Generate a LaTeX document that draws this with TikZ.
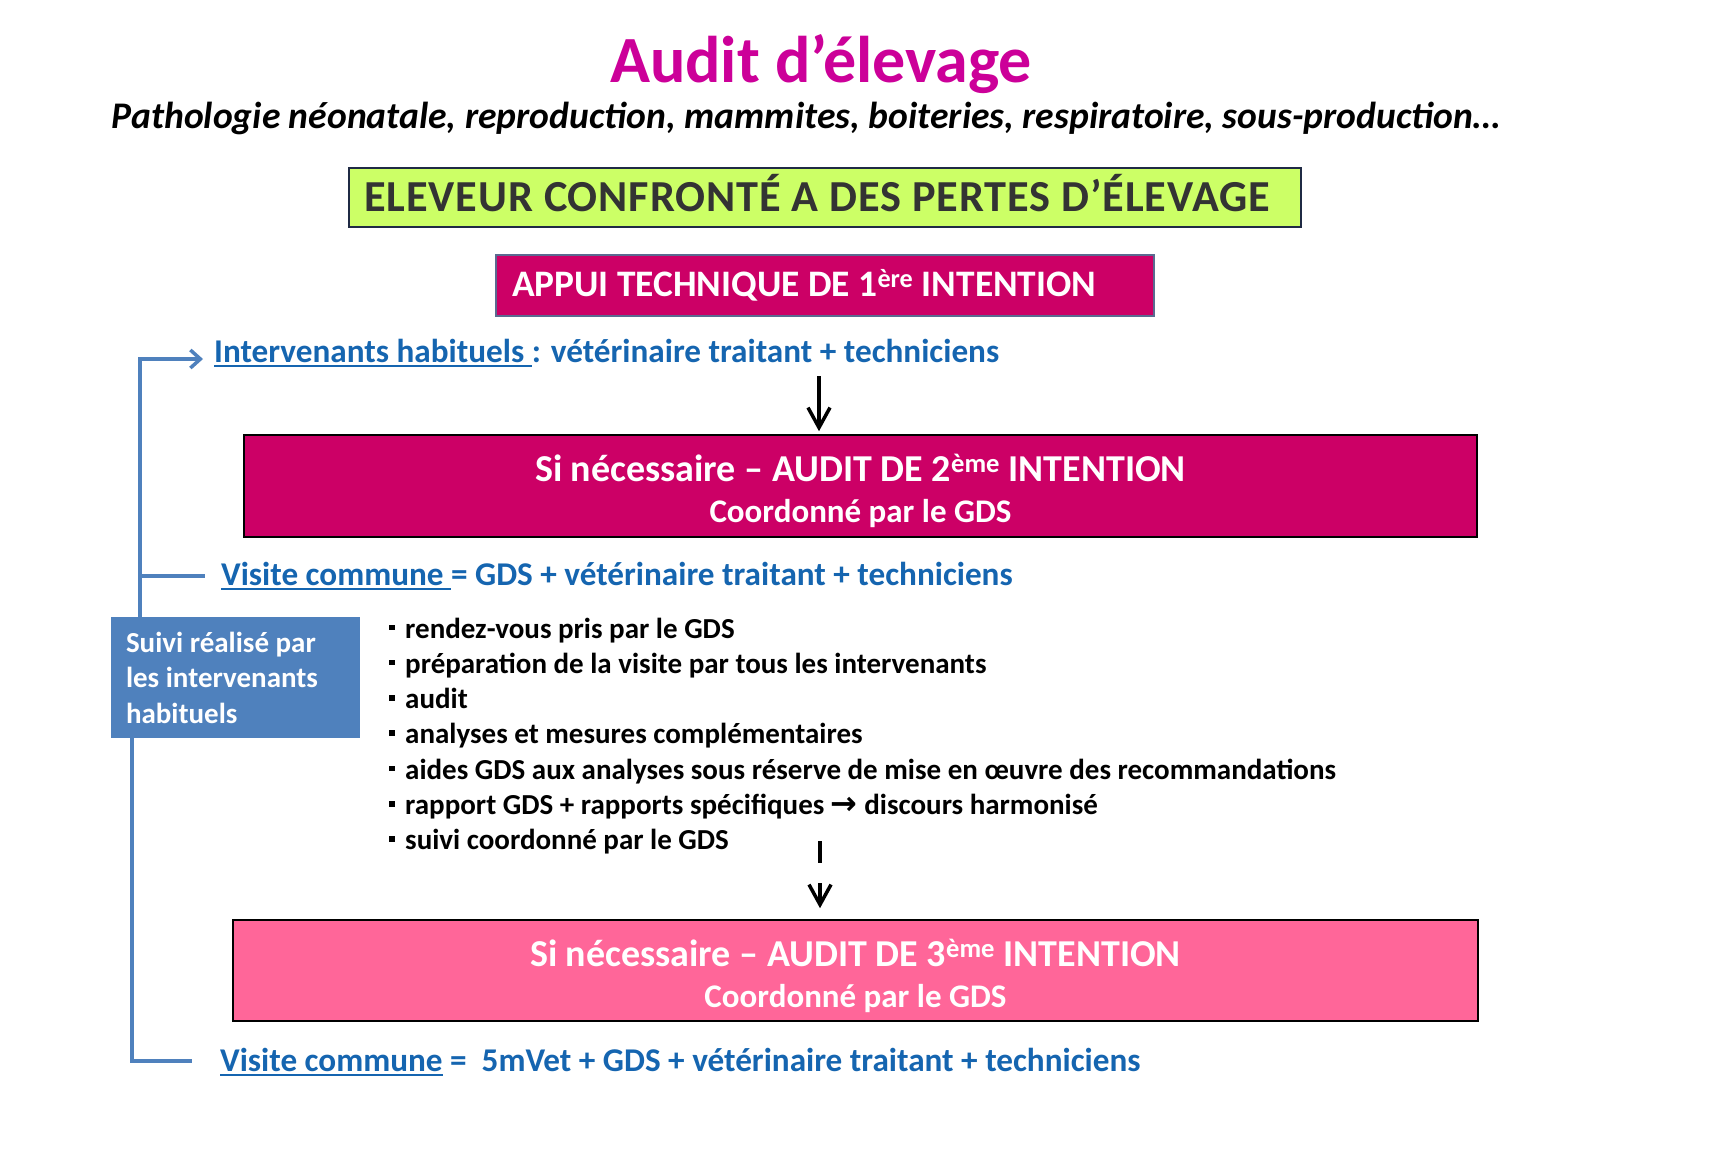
\documentclass[tikz,border=0pt]{standalone}
\usepackage{fontspec}
\setmainfont{Carlito}
\newfontfamily\arrowfont{DejaVu Sans}
\usetikzlibrary{arrows.meta}

\definecolor{titlemag}{HTML}{CC0099}
\definecolor{lime}{HTML}{CCFF66}
\definecolor{limeedge}{HTML}{1F2A44}
\definecolor{darktxt}{HTML}{333333}
\definecolor{auditmag}{HTML}{CC0066}
\definecolor{appuiedge}{HTML}{5A6A90}
\definecolor{auditpink}{HTML}{FF6699}
\definecolor{linkblue}{HTML}{1565B0}
\definecolor{barblue}{HTML}{4F81BD}

\newcommand{\fsz}[2]{\fontsize{#1}{#2}\selectfont}
\newcommand{\sq}{\rule[8pt]{5.5pt}{5.5pt}\hspace{10.5pt}}
\newcommand{\undl}[1]{\setbox0\hbox{#1}\rlap{\rule[-4.5pt]{\wd0}{2pt}}\box0}

\begin{document}
\begin{tikzpicture}[x=1pt, y=-1pt,
  bigbox/.style={draw=black, line width=1.6pt, text=white, align=center, inner sep=0pt, font=\fsz{38}{41}\bfseries},
  link/.style={anchor=west, inner sep=0pt, text=linkblue, font=\fsz{33.2}{40}\bfseries},
  bluebar/.style={draw=barblue, line width=4.5pt},
  downarrow/.style={line width=3.5pt, -{Straight Barb[length=20pt, width=22pt, line width=3.5pt]}}]
  \useasboundingbox[fill=white] (0,0) rectangle (1722,1171);

  \node[text=titlemag, font=\fsz{66}{78}\bfseries] (title) at (821,64) {Audit d’élevage};
  \node[font=\fsz{37.6}{43}\bfseries\itshape] (sub) at (806,118)
    {Pathologie néonatale, reproduction, mammites, boiteries, respiratoire, sous-production…};

  \node[draw=limeedge, line width=1.5pt, fill=lime, text=darktxt, minimum width=952pt, minimum height=59pt,
        inner sep=0pt, font=\fsz{44.3}{52}\bfseries\addfontfeatures{LetterSpace=2}] (eleveur) at (825,197.5)
    {ELEVEUR CONFRONTÉ A DES PERTES D’ÉLEVAGE\hspace*{16pt}\rule[-10pt]{0pt}{10pt}};
  \node[draw=appuiedge, line width=1.5pt, fill=auditmag, text=white, text width=626pt, align=flush left,
        inner xsep=16pt, inner ysep=0pt, minimum height=61pt, font=\fsz{37.4}{46}\bfseries] (appui) at (825,285.5)
    {APPUI TECHNIQUE DE 1\textsuperscript{ère} INTENTION};

  \node[link] (interv) at (214,353) {\undl{Intervenants habituels }: vétérinaire traitant + techniciens};

  \node[bigbox, fill=auditmag, minimum width=1233pt, minimum height=102pt] (audit2) at (860.5,486)
    {\rule{0pt}{38pt}Si nécessaire – AUDIT DE 2\textsuperscript{ème} INTENTION\\
     {\fsz{33}{41}Coordonné par le GDS}};

  \node[link] (visite1) at (221,576) {\undl{Visite commune }= GDS + vétérinaire traitant + techniciens};

  \node[draw=none, fill=barblue, text=white, text width=219pt, align=flush left, inner xsep=15pt, inner ysep=0pt,
        minimum height=121pt, font=\fsz{29}{35.5}\bfseries] (suivi) at (235.5,677.5)
    {Suivi réalisé par\\les intervenants\\habituels};

  \node[anchor=west, inner sep=0pt, align=flush left, font=\fsz{29}{35.3}\bfseries] (steps) at (389,736)
    {\sq rendez-vous pris par le GDS\\
     \sq préparation de la visite par tous les intervenants\\
     \sq audit\\
     \sq analyses et mesures complémentaires\\
     \sq aides GDS aux analyses sous réserve de mise en œuvre des recommandations\\
     \sq rapport GDS + rapports spécifiques {\arrowfont\fsz{32}{35.3}\bfseries →} discours harmonisé\\
     \sq suivi coordonné par le GDS};

  \node[bigbox, fill=auditpink, minimum width=1245pt, minimum height=101pt] (audit3) at (855.5,970.5)
    {\rule{0pt}{38pt}Si nécessaire – AUDIT DE 3\textsuperscript{ème} INTENTION\\
     {\fsz{33}{41}Coordonné par le GDS}};

  \node[link] (visite2) at (220,1062) {\undl{Visite commune}\ =\ \ 5mVet + GDS + vétérinaire traitant + techniciens};

  % down arrows
  \coordinate (a1) at (819,376);
  \coordinate (a2) at (820,841);
  \draw[downarrow] (a1) -- ([yshift=3pt]a1 |- audit2.north);
  \draw[downarrow, dash pattern=on 22pt off 20pt] (a2) -- ([yshift=11pt]a2 |- audit3.north);

  % side bracket
  \coordinate (tl) at (140,359);
  \coordinate (bl) at (132,1061);
  \draw[bluebar, -{Straight Barb[length=10pt, width=18pt, line width=3.5pt]}, shorten >=11pt]
    (suivi.north -| tl) -- (tl) -- (tl -| interv.west);
  \draw[bluebar, shorten >=16pt] (tl |- visite1.west) -- (visite1.west);
  \draw[bluebar] (suivi.south -| bl) -- (bl) -- ([xshift=-28pt]bl -| visite2.west);
\end{tikzpicture}
\end{document}
